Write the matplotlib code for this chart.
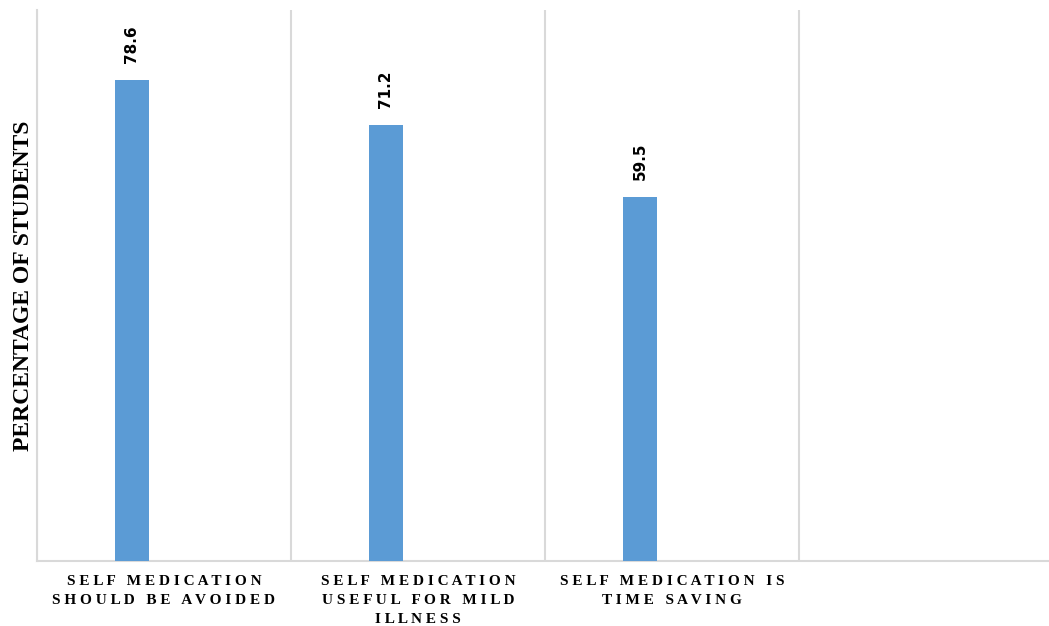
import matplotlib.pyplot as plt

# data
categories = ["SELF MEDICATION\nSHOULD BE AVOIDED",
              "SELF MEDICATION\nUSEFUL FOR MILD\nILLNESS",
              "SELF MEDICATION IS\nTIME SAVING",
              ""]
values = [78.6, 71.2, 59.5]


def spaced(s):
    # imitate the wide letter spacing of the original labels
    lines = []
    for line in s.split("\n"):
        lines.append("   ".join(" ".join(w) for w in line.split(" ")))
    return "\n".join(lines)


fig = plt.figure(figsize=(10.49, 6.26), dpi=100)
ax = fig.add_axes([37 / 1049, 65 / 626, 1016 / 1049, 551 / 626])

xs = [i + 0.374 for i in range(len(values))]
bars = ax.bar(xs, values, width=0.134, color="#5b9bd5", zorder=3)

for b, v in zip(bars, values):
    ax.annotate(f"{v}", (b.get_x() + b.get_width() / 2, v),
                xytext=(0, 12), textcoords="offset points",
                rotation=90, ha="center", va="bottom",
                fontsize=11, fontweight="bold", family="DejaVu Sans")

ax.set_xlim(0, len(categories))
ax.set_ylim(0, 90)
ax.set_yticks([])

# category separators
ax.set_xticks(range(len(categories) + 1), minor=False)
ax.set_xticklabels([])
ax.grid(axis="x", color="#d9d9d9", linewidth=1.5, zorder=0)
ax.tick_params(axis="x", length=0)
ax.set_xticks([i + 0.5 for i in range(len(categories))], minor=True)
ax.set_xticklabels([spaced(c) for c in categories], minor=True,
                   family="Liberation Serif", fontweight="bold",
                   fontsize=11, linespacing=1.6)
ax.tick_params(axis="x", which="minor", length=0, pad=10)

for side in ["top", "right"]:
    ax.spines[side].set_visible(False)
ax.spines["left"].set_color("#d9d9d9")
ax.spines["left"].set_linewidth(1.5)
ax.spines["bottom"].set_color("#d9d9d9")
ax.spines["bottom"].set_linewidth(1.5)

ax.set_ylabel("PERCENTAGE OF STUDENTS", family="Liberation Serif",
              fontweight="bold", fontsize=17)
ax.yaxis.set_label_coords(-3 / 1016, 0.5)

plt.savefig("out.png", dpi=100)
